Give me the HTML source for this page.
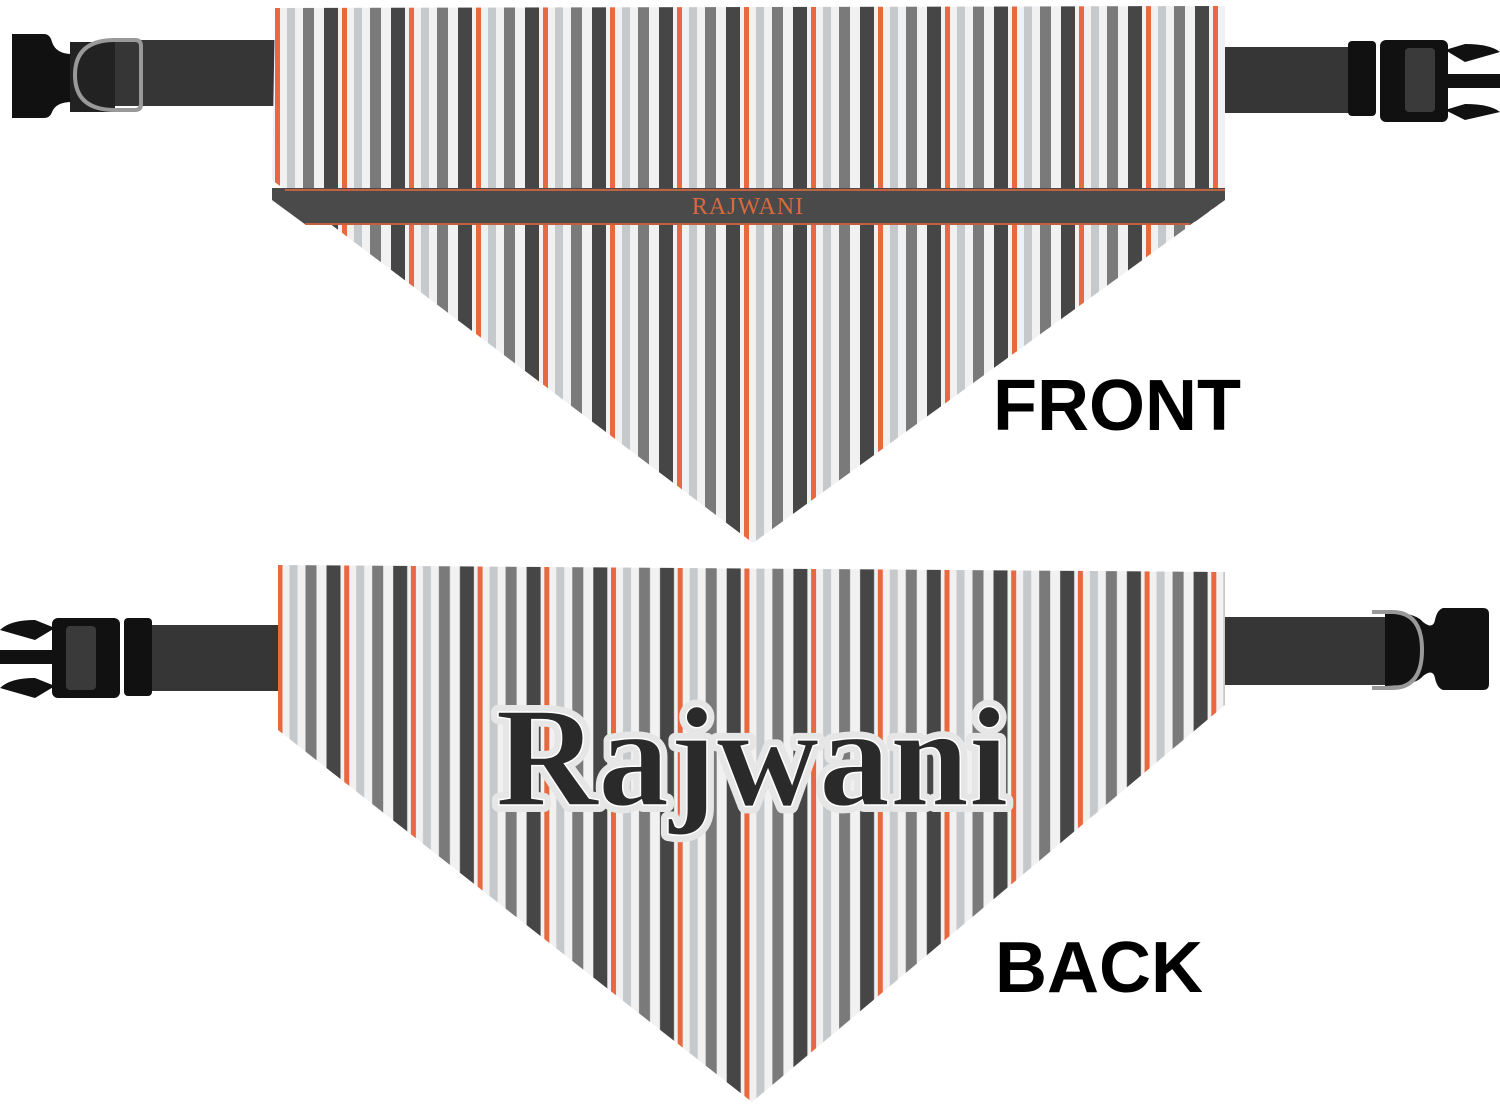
<!DOCTYPE html>
<html><head><meta charset="utf-8"><style>
html,body{margin:0;padding:0;background:#fff;}
svg{display:block;}
</style></head><body>
<svg width="1500" height="1105" viewBox="0 0 1500 1105" xmlns="http://www.w3.org/2000/svg">
<defs>
<pattern id="pf" patternUnits="userSpaceOnUse" x="342" y="0" width="67" height="1105">
<rect width="67" height="1105" fill="#f1f1f1"/>
<rect x="0" width="5" height="1105" fill="#e8693f"/>
<rect x="12" width="8" height="1105" fill="#c6c9cc"/>
<rect x="28" width="11" height="1105" fill="#7a7a7b"/>
<rect x="49" width="14" height="1105" fill="#464646"/>
</pattern>
<pattern id="pb" patternUnits="userSpaceOnUse" x="611" y="0" width="66.7" height="1105">
<rect width="67" height="1105" fill="#f1f1f1"/>
<rect x="0" width="5" height="1105" fill="#e8693f"/>
<rect x="12" width="8" height="1105" fill="#c6c9cc"/>
<rect x="28" width="11" height="1105" fill="#7a7a7b"/>
<rect x="49" width="14" height="1105" fill="#464646"/>
</pattern>
</defs>

<!-- FRONT straps -->
<rect x="100" y="40" width="178" height="66" fill="#363636"/>
<path d="M12 34 h32 q6 0 8 8 q4 12 20 12 v48 q-16 0 -20 10 q-2 6 -8 6 h-32 z" fill="#111"/>
<path d="M70 42 h45 v70 h-45 z" fill="#222"/>
<path d="M115 40 h20 q6 0 6 6 v58 q0 6 -6 6 h-20 q-40 0 -40 -35 q0 -35 40 -35 z" fill="none" stroke="#999" stroke-width="4"/>
<rect x="1225" y="47" width="130" height="66" fill="#363636"/>
<rect x="1348" y="41" width="28" height="75" rx="4" fill="#111"/>
<rect x="1380" y="40" width="68" height="82" rx="6" fill="#111"/>
<rect x="1405" y="48" width="30" height="64" rx="4" fill="#3a3a3a"/>
<path d="M1445 50 L1465 44 Q1490 44 1500 52 L1465 62 Z" fill="#111"/>
<path d="M1445 74 h55 v14 h-55 z" fill="#111"/>
<path d="M1445 110 L1465 104 Q1490 104 1500 112 L1465 120 Z" fill="#111"/>

<!-- FRONT bandana -->
<polygon points="275,8 1225,6 1225,200 753,543 272,180" fill="url(#pf)"/>
<polygon points="272,188 1225,188 1225,200 1190,225 306,225 272,200" fill="#4a4a4a"/>
<line x1="285" y1="190" x2="1225" y2="190" stroke="#e8693f" stroke-width="1.5"/>
<line x1="305" y1="224" x2="1190" y2="224" stroke="#e8693f" stroke-width="1.5"/>
<text x="748" y="214" text-anchor="middle" font-family="Liberation Serif, serif" font-size="24" fill="#d9693f" letter-spacing="1">RAJWANI</text>
<text x="993" y="430" font-family="Liberation Sans, sans-serif" font-weight="bold" font-size="72" fill="#000">FRONT</text>

<!-- BACK straps -->
<rect x="140" y="625" width="142" height="66" fill="#363636"/>
<rect x="124" y="618" width="28" height="78" rx="4" fill="#111"/>
<rect x="52" y="618" width="68" height="80" rx="6" fill="#111"/>
<rect x="66" y="626" width="30" height="64" rx="4" fill="#3a3a3a"/>
<path d="M55 628 L35 620 Q10 620 0 630 L35 640 Z" fill="#111"/>
<path d="M55 650 h-55 v14 h55 z" fill="#111"/>
<path d="M55 686 L35 678 Q10 678 0 688 L35 698 Z" fill="#111"/>
<rect x="1225" y="617" width="160" height="68" fill="#363636"/>
<path d="M1385 612 q30 0 38 10 q10 8 12 -2 q2 -10 8 -12 h40 q6 0 6 6 v70 q0 6 -6 6 h-40 q-6 -2 -8 -12 q-2 -10 -12 -2 q-8 10 -38 10 z" fill="#111"/>
<path d="M1372 612 h20 q30 0 30 38 q0 38 -30 38 h-20" fill="none" stroke="#999" stroke-width="4"/>

<!-- BACK bandana -->
<polygon points="278,565 1225,572 1225,705 752,1102 278,730" fill="url(#pb)"/>
<text x="752" y="805" text-anchor="middle" font-family="Liberation Serif, serif" font-weight="bold" font-size="142" fill="#2a2a2a" stroke="#e6e6e6" stroke-width="14" stroke-linejoin="round" paint-order="stroke">Rajwani</text>
<text x="752" y="805" text-anchor="middle" font-family="Liberation Serif, serif" font-weight="bold" font-size="142" fill="#2a2a2a" stroke="#fff" stroke-width="1.5">Rajwani</text>
<text x="995" y="992" font-family="Liberation Sans, sans-serif" font-weight="bold" font-size="72" fill="#000">BACK</text>
</svg>
</body></html>
